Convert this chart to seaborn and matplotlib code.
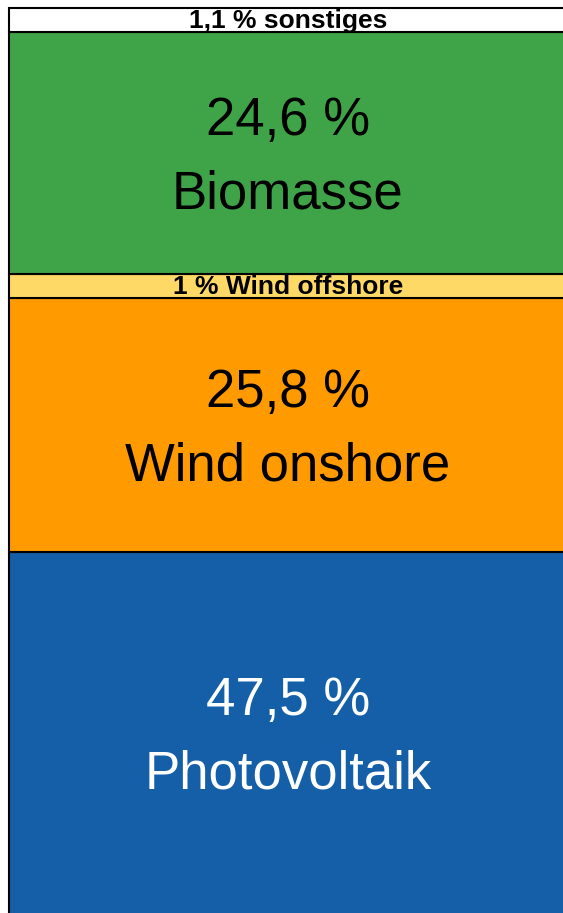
import numpy as np
import pandas as pd
import matplotlib
matplotlib.use("Agg")
import matplotlib.pyplot as plt
import seaborn as sns

# --- data (bottom to top) ---
sources = ["Photovoltaik", "Wind onshore", "Wind offshore", "Biomasse", "sonstiges"]
shares = [47.5, 25.8, 1.0, 24.6, 1.1]
pct_labels = ["47,5 %", "25,8 %", "1 %", "24,6 %", "1,1 %"]
colors = ["#155ea8", "#ff9a00", "#ffd966", "#3fa447", "#ffffff"]
text_colors = ["white", "black", "black", "black", "black"]

sns.set_theme(style="white")
plt.rcParams["font.family"] = ["Liberation Sans", "DejaVu Sans"]

df = pd.DataFrame({"source": sources, "share": shares})
# tiny segments are drawn a bit taller so their label fits
df["shown"] = np.maximum(df["share"], 2.4)
df["bottom"] = df["shown"].cumsum() - df["shown"]

fig = plt.figure(figsize=(5.63, 9.13), dpi=100)
ax = fig.add_axes([9 / 563, 0, 558 / 563, 905 / 913])

for i, row in df.iterrows():
    sns.barplot(x=[0], y=[row["shown"]], bottom=row["bottom"], color=colors[i],
                saturation=1, edgecolor="black", linewidth=1.5, width=1, ax=ax)

for p in ax.patches:
    p.set_clip_on(False)

top = df["shown"].sum()
ylo = 10.9
ax.set_xlim(-0.5, 0.5)
ax.set_ylim(ylo, top)
ax.axis("off")

for i, row in df.iterrows():
    lo = max(row["bottom"], ylo)
    mid = (lo + row["bottom"] + row["shown"]) / 2
    if row["share"] < 2:
        ax.annotate(f"{pct_labels[i]} {sources[i]}", (0, mid), xytext=(0, -1),
                    textcoords="offset points", ha="center", va="center",
                    fontsize=19, fontweight="bold", color=text_colors[i])
    else:
        ax.annotate(pct_labels[i], (0, mid), xytext=(0, 23), textcoords="offset points",
                    ha="center", va="center", fontsize=38, color=text_colors[i])
        ax.annotate(sources[i], (0, mid), xytext=(0, -30), textcoords="offset points",
                    ha="center", va="center", fontsize=38, color=text_colors[i])

fig.savefig("out.png", dpi=100)
